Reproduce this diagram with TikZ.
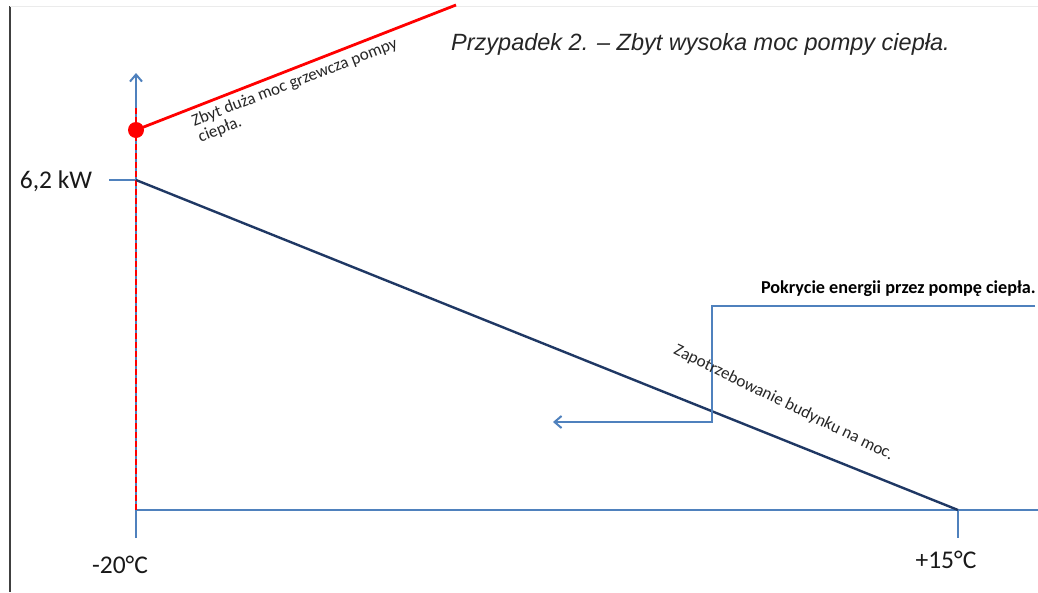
\documentclass[tikz,border=0pt]{standalone}
\usepackage{fontspec}
\setmainfont{Carlito}
\newfontfamily\titlefont{Liberation Sans}
\usetikzlibrary{arrows.meta}
\definecolor{axisblue}{RGB}{79,129,189}
\definecolor{navy}{RGB}{31,56,100}
\definecolor{hotred}{RGB}{255,0,0}
\tikzset{
  axisline/.style={draw=axisblue, line width=2pt},
  demandline/.style={draw=navy, line width=2.4pt},
  powerline/.style={draw=hotred, line width=2.8pt},
  lbl/.style={font=\fontsize{25.5}{30}\selectfont, text=black!90, inner sep=0pt},
  small/.style={font=\fontsize{17}{17}\selectfont, text=black!85, inner sep=0pt, align=left},
}
\begin{document}
\begin{tikzpicture}[x=1pt,y=-1pt]
\useasboundingbox (0,0) rectangle (1038,592);
\fill[white] (0,0) rectangle (1038,592);
% page border
\draw[black!75, line width=1.2pt] (10,6) -- (10,592);
\draw[black!8, line width=1pt] (10,6) -- (1038,6);
% coordinates
\coordinate (ytop) at (136,73);
\coordinate (origin) at (136,510);
\coordinate (ybot) at (136,538);
\coordinate (xend) at (1038,510);
\coordinate (t15) at (958,510);
\coordinate (t15b) at (958,538);
\coordinate (kw) at (136,180);
\coordinate (kwtick) at (109,180);
\coordinate (redtop) at (136,108);
\coordinate (redend) at (456,5);
\coordinate (s1) at (1035,306);
\coordinate (s2) at (712,306);
\coordinate (s3) at (712,422);
\coordinate (s4) at (553,422);
% axes
\draw[axisline, -{Straight Barb[length=7pt,width=12pt]}] (ybot) -- (ytop);
\draw[axisline] (origin) -- (xend);
\draw[axisline] (t15) -- (t15b);
\draw[axisline] (kwtick) -- (kw);
% red dashed
\draw[hotred, line width=1.6pt, dash pattern=on 6pt off 3pt] (redtop) -- (origin);
% demand line
\draw[demandline] (kw) -- (t15);
% red power line and dot
\node[circle, fill=hotred, minimum size=16pt, inner sep=0pt] (dot) at (136,130) {};
\draw[powerline] (dot.center) -- (redend);
% step arrow
\draw[axisline, -{Straight Barb[length=7pt,width=12pt]}] (s1) -- (s2) -- (s3) -- (s4);
% labels
\node[lbl] (kwlbl) at (56,181) {6,2 kW};
\node[lbl] (m20) at (120,565) {-20°C};
\node[lbl] (p15) at (946,560) {+15°C};
\node[inner sep=0pt, anchor=west, font=\titlefont\itshape\fontsize{23.5}{27}\selectfont, text=black!85] (title) at (451,44) {Przypadek 2. – Zbyt wysoka moc pompy ciepła.};
\node[inner sep=0pt, anchor=east, font=\bfseries\fontsize{18.2}{20}\selectfont] (cover) at (1036,289) {Pokrycie energii przez pompę ciepła.};
\node[small, rotate=21, anchor=north west] (zbyt) at (190,115) {Zbyt duża moc grzewcza pompy\\ciepła.};
\node[small, rotate=-26, anchor=north west] (zap) at (678,343) {Zapotrzebowanie budynku na moc.};
\end{tikzpicture}
\end{document}
